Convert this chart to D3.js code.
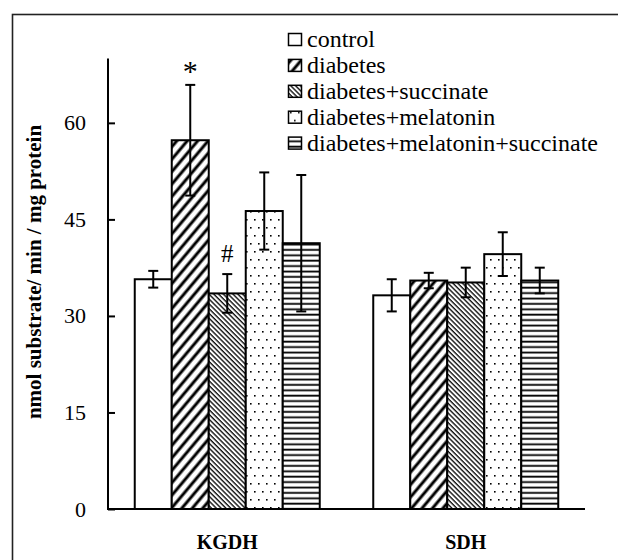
<!DOCTYPE html>
<html>
<head>
<meta charset="utf-8">
<script src="https://cdn.jsdelivr.net/npm/d3@7"></script>
<style>
  body { margin: 0; background: #fff; }
  svg text { font-family: "Liberation Serif", "Times New Roman", serif; fill: #000; }
</style>
</head>
<body>
<script>
const width = 618;
const height = 560;
const serif = '"Liberation Serif", "Times New Roman", serif';

const categories = ['KGDH', 'SDH'];
const groups = ['control', 'diabetes', 'diabetes+succinate', 'diabetes+melatonin', 'diabetes+melatonin+succinate'];
const kgdhMeans = [35.7, 57.3, 33.5, 46.3, 41.3];
const kgdhErrors = [1.3, 8.6, 3.0, 6.0, 10.6];
const sdhMeans = [33.2, 35.5, 35.2, 39.6, 35.5];
const sdhErrors = [2.5, 1.2, 2.3, 3.4, 2.0];
const yTicks = [0, 15, 30, 45, 60];
const marks = [{cat: 'KGDH', group: 'diabetes', label: '*'}, {cat: 'KGDH', group: 'diabetes+succinate', label: '#'}];

const patternIds = ['p-none', 'p-diag', 'p-back', 'p-dots', 'p-horiz'];

const data = [];
categories.forEach((cat, ci) => {
  const means = ci === 0 ? kgdhMeans : sdhMeans;
  const errs = ci === 0 ? kgdhErrors : sdhErrors;
  groups.forEach((g, gi) => {
    data.push({cat: cat, group: g, value: means[gi], err: errs[gi], pattern: patternIds[gi]});
  });
});

const svg = d3.select('body')
  .append('svg')
  .attr('width', width)
  .attr('height', height);

// patterns
const defs = svg.append('defs');

defs.append('pattern')
  .attr('id', 'p-none')
  .attr('width', 4).attr('height', 4)
  .attr('patternUnits', 'userSpaceOnUse')
  .append('rect').attr('width', 4).attr('height', 4).attr('fill', '#fff');

const diag = defs.append('pattern')
  .attr('id', 'p-diag')
  .attr('width', 8).attr('height', 8)
  .attr('patternUnits', 'userSpaceOnUse')
  .attr('patternTransform', 'rotate(40)');
diag.append('rect').attr('width', 8).attr('height', 8).attr('fill', '#fff');
diag.append('line').attr('x1', 2).attr('y1', 0).attr('x2', 2).attr('y2', 8)
  .attr('stroke', '#000').attr('stroke-width', 3);

const back = defs.append('pattern')
  .attr('id', 'p-back')
  .attr('width', 3.4).attr('height', 3.4)
  .attr('patternUnits', 'userSpaceOnUse')
  .attr('patternTransform', 'rotate(-45)');
back.append('rect').attr('width', 3.4).attr('height', 3.4).attr('fill', '#fff');
back.append('line').attr('x1', 1).attr('y1', 0).attr('x2', 1).attr('y2', 3.4)
  .attr('stroke', '#000').attr('stroke-width', 1.3);

const dots = defs.append('pattern')
  .attr('id', 'p-dots')
  .attr('width', 8).attr('height', 16)
  .attr('patternUnits', 'userSpaceOnUse');
dots.append('rect').attr('width', 8).attr('height', 16).attr('fill', '#fff');
dots.append('rect').attr('x', 2).attr('y', 3).attr('width', 1.6).attr('height', 1.6).attr('fill', '#000');
dots.append('rect').attr('x', 6).attr('y', 11).attr('width', 1.6).attr('height', 1.6).attr('fill', '#000');

const horiz = defs.append('pattern')
  .attr('id', 'p-horiz')
  .attr('width', 5.4).attr('height', 5.4)
  .attr('patternUnits', 'userSpaceOnUse');
horiz.append('rect').attr('width', 5.4).attr('height', 5.4).attr('fill', '#fff');
horiz.append('line').attr('x1', 0).attr('y1', 1.5).attr('x2', 5.4).attr('y2', 1.5)
  .attr('stroke', '#000').attr('stroke-width', 1.8);

// frame
svg.append('rect')
  .attr('x', 12.5).attr('y', 14.5)
  .attr('width', 640).attr('height', 600)
  .attr('fill', 'none')
  .attr('stroke', '#222')
  .attr('stroke-width', 1.6);

// scales
const x0 = d3.scaleBand()
  .domain(categories)
  .range([108, 585]);

const x1 = d3.scaleBand()
  .domain(groups)
  .range([0, x0.bandwidth()])
  .paddingOuter(0.723);

const y = d3.scaleLinear()
  .domain([0, 70])
  .range([509, 58.5]);

// bars
svg.selectAll('rect.bar')
  .data(data)
  .enter()
  .append('rect')
  .attr('class', 'bar')
  .attr('x', d => x0(d.cat) + x1(d.group))
  .attr('y', d => y(d.value))
  .attr('width', x1.bandwidth())
  .attr('height', d => y(0) - y(d.value))
  .attr('fill', d => `url(#${d.pattern})`)
  .attr('stroke', '#000')
  .attr('stroke-width', 2);

// error bars
const errG = svg.append('g')
  .attr('stroke', '#000')
  .attr('stroke-width', 2);

data.forEach(d => {
  const cx = x0(d.cat) + x1(d.group) + x1.bandwidth() / 2;
  errG.append('line')
    .attr('x1', cx).attr('x2', cx)
    .attr('y1', y(d.value + d.err)).attr('y2', y(d.value - d.err));
  [d.value + d.err, d.value - d.err].forEach(v => {
    errG.append('line')
      .attr('x1', cx - 5).attr('x2', cx + 5)
      .attr('y1', y(v)).attr('y2', y(v));
  });
});

// significance marks
svg.selectAll('text.mark')
  .data(marks)
  .enter()
  .append('text')
  .attr('class', 'mark')
  .attr('x', d => x0(d.cat) + x1(d.group) + x1.bandwidth() / 2)
  .attr('y', d => {
    const item = data.find(e => e.cat === d.cat && e.group === d.group);
    return d.label === '*' ? y(item.value + item.err) - 4 : y(item.value + item.err) - 12;
  })
  .attr('text-anchor', 'middle')
  .style('font-family', serif)
  .style('font-size', d => d.label === '*' ? '30px' : '25px')
  .text(d => d.label);

// axes
const yAxis = d3.axisRight(y)
  .tickValues(yTicks)
  .tickSize(7)
  .tickFormat(d3.format('d'));

const yGroup = svg.append('g')
  .attr('transform', 'translate(108, 0)')
  .call(yAxis);
yGroup.attr('font-family', null);
yGroup.select('.domain').attr('stroke-width', 2).attr('d', `M0,${y(70)}V${y(0)}`);
yGroup.selectAll('.tick line').attr('stroke-width', 2);
yGroup.selectAll('.tick text')
  .attr('x', -22)
  .attr('text-anchor', 'end')
  .style('font-size', '22px')
  .style('font-family', serif);

svg.append('line')
  .attr('x1', 107).attr('x2', 585)
  .attr('y1', y(0)).attr('y2', y(0))
  .attr('stroke', '#000')
  .attr('stroke-width', 2);

svg.selectAll('text.cat')
  .data(categories)
  .enter()
  .append('text')
  .attr('class', 'cat')
  .attr('x', d => x0(d) + x0.bandwidth() / 2)
  .attr('y', 549)
  .attr('text-anchor', 'middle')
  .style('font-family', serif)
  .style('font-size', '20px')
  .style('font-weight', 'bold')
  .text(d => d);

// y title
svg.append('text')
  .attr('transform', 'translate(41, 272) rotate(-90)')
  .attr('text-anchor', 'middle')
  .style('font-family', serif)
  .style('font-size', '21px')
  .style('font-weight', 'bold')
  .text('nmol substrate/ min / mg protein');

// legend
const legend = svg.selectAll('g.legend')
  .data(groups)
  .enter()
  .append('g')
  .attr('class', 'legend')
  .attr('transform', (d, i) => `translate(288, ${47 + i * 25.9})`);

legend.append('rect')
  .attr('x', 0.5).attr('y', -13.5)
  .attr('width', 13).attr('height', 12)
  .attr('fill', (d, i) => `url(#${patternIds[i]})`)
  .attr('stroke', '#000')
  .attr('stroke-width', 1.5);

legend.append('text')
  .attr('x', 19)
  .attr('y', 0)
  .style('font-family', serif)
  .style('font-size', '24px')
  .text(d => d);
</script>
</body>
</html>
